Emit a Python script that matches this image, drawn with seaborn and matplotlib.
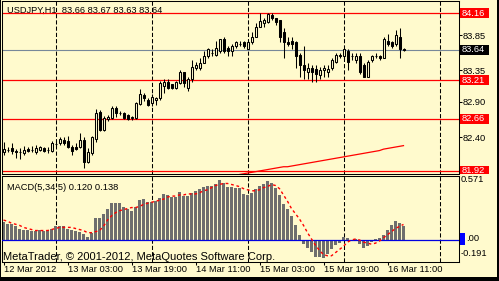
import numpy as np
import matplotlib
matplotlib.use("Agg")
import matplotlib.pyplot as plt
import seaborn as sns
from matplotlib.transforms import blended_transform_factory, Bbox
from matplotlib.patches import Rectangle

plt.rcParams['font.family'] = ['Liberation Sans', 'DejaVu Sans']

# ---------------- data ----------------
symbol_title = "USDJPY,H1  83.66 83.67 83.63 83.64"
macd_title = "MACD(5,34,5) 0.120 0.138"
copyright_text = "MetaTrader, \u00a9 2001-2012, MetaQuotes Software Corp."

opens = [82.19, 82.22, 82.25, 82.20, 82.19, 82.17, 82.23, 82.22, 82.19, 82.22,
         82.25, 82.22, 82.20, 82.30, 82.32, 82.36, 82.35, 82.26, 82.26, 82.26,
         82.36, 82.05, 82.17, 82.37, 82.76, 82.50, 82.66, 82.67, 82.82, 82.75,
         82.75, 82.72, 82.67, 82.67, 82.87, 83.00, 82.93, 82.89, 82.93, 82.95,
         83.13, 83.19, 83.15, 83.10, 83.17, 83.32, 83.10, 83.22, 83.39, 83.39,
         83.46, 83.55, 83.60, 83.57, 83.62, 83.79, 83.67, 83.62, 83.69, 83.73,
         83.75, 83.66, 83.75, 83.83, 83.97, 84.02, 84.03, 84.13, 84.09, 84.06,
         83.89, 83.75, 83.76, 83.75, 83.57, 83.42, 83.33, 83.39, 83.37, 83.29,
         83.35, 83.32, 83.39, 83.47, 83.56, 83.56, 83.62, 83.55, 83.49, 83.55,
         83.42, 83.26, 83.50, 83.55, 83.56, 83.53, 83.77, 83.75, 83.72, 83.83,
         83.66]
closes = [82.23, 82.22, 82.20, 82.19, 82.19, 82.22, 82.20, 82.22, 82.25, 82.26,
          82.20, 82.22, 82.32, 82.30, 82.37, 82.32, 82.26, 82.20, 82.23, 82.36,
          82.05, 82.19, 82.40, 82.75, 82.50, 82.67, 82.69, 82.82, 82.75, 82.75,
          82.67, 82.66, 82.69, 82.89, 83.02, 82.95, 82.86, 82.97, 82.95, 83.17,
          83.19, 83.10, 83.10, 83.19, 83.32, 83.17, 83.22, 83.40, 83.43, 83.46,
          83.55, 83.65, 83.60, 83.67, 83.79, 83.63, 83.62, 83.69, 83.75, 83.73,
          83.70, 83.75, 83.83, 83.97, 84.05, 84.06, 84.15, 84.09, 84.03, 83.83,
          83.75, 83.73, 83.72, 83.55, 83.42, 83.36, 83.39, 83.33, 83.30, 83.36,
          83.39, 83.37, 83.50, 83.57, 83.57, 83.65, 83.47, 83.55, 83.55, 83.33,
          83.26, 83.47, 83.56, 83.55, 83.52, 83.79, 83.73, 83.70, 83.85, 83.66,
          83.64]
highs = [82.33, 82.26, 82.32, 82.23, 82.25, 82.27, 82.26, 82.27, 82.29, 82.27,
         82.26, 82.26, 82.35, 82.36, 82.40, 82.40, 82.42, 82.29, 82.32, 82.46,
         82.40, 82.25, 82.42, 82.80, 82.79, 82.70, 82.72, 82.85, 82.85, 82.77,
         82.76, 82.73, 82.70, 82.90, 83.09, 83.03, 82.96, 83.02, 82.97, 83.20,
         83.22, 83.22, 83.16, 83.20, 83.36, 83.33, 83.26, 83.50, 83.47, 83.52,
         83.62, 83.67, 83.65, 83.76, 83.80, 83.83, 83.70, 83.72, 83.76, 83.76,
         83.76, 83.76, 83.89, 84.02, 84.16, 84.10, 84.16, 84.16, 84.10, 84.07,
         83.95, 83.82, 83.83, 83.76, 83.59, 83.69, 83.45, 83.43, 83.43, 83.40,
         83.43, 83.42, 83.53, 83.60, 83.60, 83.66, 83.65, 83.59, 83.60, 83.60,
         83.46, 83.50, 83.57, 83.59, 83.57, 83.82, 83.86, 83.76, 83.92, 83.95,
         83.67]
lows = [82.15, 82.19, 82.16, 82.10, 82.09, 82.15, 82.19, 82.19, 82.16, 82.20,
        82.19, 82.17, 82.19, 82.26, 82.29, 82.29, 82.25, 82.15, 82.22, 82.25,
        81.96, 82.03, 82.15, 82.33, 82.49, 82.49, 82.63, 82.66, 82.69, 82.72,
        82.66, 82.65, 82.65, 82.66, 82.86, 82.92, 82.85, 82.85, 82.86, 82.93,
        83.03, 83.09, 83.09, 83.09, 83.15, 83.12, 83.05, 83.19, 83.36, 83.36,
        83.45, 83.53, 83.56, 83.56, 83.60, 83.60, 83.56, 83.56, 83.67, 83.69,
        83.67, 83.65, 83.73, 83.82, 83.96, 83.97, 84.02, 84.06, 84.00, 83.75,
        83.53, 83.70, 83.65, 83.39, 83.25, 83.23, 83.22, 83.19, 83.19, 83.22,
        83.26, 83.25, 83.36, 83.45, 83.53, 83.53, 83.36, 83.50, 83.46, 83.30,
        83.26, 83.25, 83.47, 83.52, 83.49, 83.52, 83.69, 83.67, 83.70, 83.53,
        83.63]

# slow moving average (red line in price window), from bar 56 onwards
ma_first_bar = 56
ma_values = [81.84, 81.85, 81.86, 81.87, 81.88, 81.89, 81.90, 81.91, 81.92, 81.93,
             81.94, 81.95, 81.96, 81.97, 81.98, 81.98, 81.99, 82.00, 82.01, 82.02,
             82.03, 82.04, 82.05, 82.06, 82.07, 82.08, 82.09, 82.10, 82.11, 82.12,
             82.13, 82.14, 82.15, 82.16, 82.17, 82.18, 82.19, 82.20, 82.21, 82.23,
             82.24, 82.25, 82.26, 82.27, 82.28]

macd_main = [0.158, 0.14, 0.14, 0.12, 0.10, 0.093, 0.093, 0.084, 0.084, 0.093,
             0.084, 0.093, 0.10, 0.12, 0.12, 0.12, 0.10, 0.093, 0.084, 0.074,
             0.056, 0.028, 0.065, 0.195, 0.195, 0.232, 0.278, 0.325, 0.325, 0.325,
             0.297, 0.278, 0.26, 0.297, 0.353, 0.362, 0.334, 0.334, 0.343, 0.371,
             0.408, 0.399, 0.38, 0.38, 0.427, 0.39, 0.39, 0.418, 0.436, 0.455,
             0.473, 0.483, 0.483, 0.501, 0.536, 0.51, 0.473, 0.473, 0.464, 0.464,
             0.408, 0.399, 0.418, 0.455, 0.483, 0.501, 0.52, 0.51, 0.464, 0.399,
             0.316, 0.278, 0.213, 0.13, 0.046, -0.037, -0.074, -0.111, -0.148, -0.148,
             -0.158, -0.121, -0.084, -0.046, -0.028, 0.028, 0.019, 0.003, 0.009, -0.037,
             -0.074, -0.056, -0.019, 0.009, 0.019, 0.046, 0.093, 0.13, 0.167, 0.148,
             0.120]
macd_signal = [0.177, 0.167, 0.149, 0.14, 0.13, 0.112, 0.102, 0.093, 0.084, 0.084,
               0.084, 0.084, 0.093, 0.102, 0.112, 0.112, 0.112, 0.112, 0.102, 0.093,
               0.084, 0.065, 0.065, 0.074, 0.084, 0.121, 0.177, 0.214, 0.242, 0.26,
               0.27, 0.279, 0.288, 0.288, 0.298, 0.316, 0.326, 0.335, 0.344, 0.353,
               0.363, 0.381, 0.39, 0.39, 0.40, 0.40, 0.409, 0.409, 0.409, 0.419,
               0.437, 0.446, 0.465, 0.484, 0.493, 0.502, 0.502, 0.493, 0.484, 0.474,
               0.456, 0.446, 0.437, 0.437, 0.446, 0.465, 0.474, 0.493, 0.484, 0.456,
               0.40, 0.344, 0.279, 0.233, 0.186, 0.13, 0.065, 0.009, -0.047, -0.093,
               -0.13, -0.14, -0.14, -0.112, -0.084, -0.056, -0.019, 0.0, 0.009, 0.0,
               -0.019, -0.028, -0.037, -0.028, -0.009, 0.019, 0.047, 0.074, 0.102, 0.121,
               0.138]

time_labels = ["12 Mar 2012", "13 Mar 03:00", "13 Mar 19:00", "14 Mar 11:00",
               "15 Mar 03:00", "15 Mar 19:00", "16 Mar 11:00"]
time_label_bars = [0, 16, 32, 48, 64, 80, 96]
day_separator_bars = [13, 37, 61, 85, 109]
level_lines = [84.16, 83.21, 82.66, 81.92]
bid_price = 83.64
price_ticks = [83.85, 83.35, 82.90, 82.40]
macd_max, macd_zero, macd_min = 0.571, 0.00, -0.191
price_range = (81.884, 84.335)

# ---------------- figure ----------------
BG = '#FFFACD'
W, H = 499, 281
fig = plt.figure(figsize=(W / 100, H / 100), dpi=100, facecolor=BG)


def box(l, t, r, b):
    return [l / W, 1 - b / H, (r - l) / W, (b - t) / H]


def fx(x):
    return x / W


def fy(y):
    return 1 - y / H


ax = fig.add_axes(box(1.5, 1.0, 458.5, 173.5), facecolor=BG)
ax2 = fig.add_axes(box(1.5, 175.7, 458.5, 261.5), facecolor=BG)

n = len(opens)
xs = np.arange(n)
o = np.asarray(opens)
c = np.asarray(closes)
hi = np.asarray(highs)
lo = np.asarray(lows)

LW = 0.75
# level lines
for v in level_lines:
    ax.axhline(v, color='#FF0000', lw=0.9, zorder=2)
ax.axhline(bid_price, color='#778899', lw=0.8, zorder=2)

# slow MA
ma_x = np.arange(ma_first_bar, ma_first_bar + len(ma_values))
sns.lineplot(x=ma_x, y=ma_values, ax=ax, color='#FF0000', linewidth=0.9, zorder=2.5)

# separators
for b in day_separator_bars:
    for a in (ax, ax2):
        a.axvline(b, color='black', lw=LW, linestyle=(0, (4, 2)), zorder=1.8)

# candles
ax.vlines(xs, lo, hi, color='black', lw=LW, zorder=3)
up = c >= o
ax.bar(xs[up], (c - o)[up], bottom=o[up], width=0.5, facecolor=BG,
       edgecolor='black', linewidth=LW, zorder=4)
ax.bar(xs[~up], (o - c)[~up], bottom=c[~up], width=0.5, facecolor='black',
       edgecolor='black', linewidth=LW, zorder=4)

# MACD
sns.barplot(x=xs, y=macd_main, native_scale=True, width=0.75, color='#6E6E6E',
            saturation=1, linewidth=0, errorbar=None, ax=ax2, zorder=2)
ax2.axhline(macd_zero, color='#0000E0', lw=0.9, zorder=3)
sns.lineplot(x=xs, y=macd_signal, ax=ax2, color='#FF0000', linewidth=1.0,
             linestyle=(0, (2, 2)), zorder=4)

# limits
for a in (ax, ax2):
    a.set_xlim(-0.5, 113.75)
    a.set_xlabel('')
    a.set_ylabel('')
    for s in a.spines.values():
        s.set_color('black')
        s.set_linewidth(LW)
ax.set_ylim(*price_range)
ax2.set_ylim(macd_min, macd_max)

FS = 6.7
# price axis
ax.set_xticks([])
ax.yaxis.tick_right()
ax.set_yticks(price_ticks)
ax.set_yticklabels([f"{v:.2f}" for v in price_ticks], fontsize=FS)
ax.tick_params(axis='y', length=2.2, width=LW, pad=1.0, colors='black')

# time axis
ax2.set_yticks([])
ax2.set_xticks(time_label_bars)
ax2.set_xticklabels(time_labels, fontsize=FS, ha='left')
ax2.tick_params(axis='x', length=2.2, width=LW, pad=0.3, colors='black')

# level labels (coloured boxes)
fig.canvas.draw()
trans = blended_transform_factory(ax.transAxes, ax.transData)
ppu = ax.bbox.height / (price_range[1] - price_range[0])
box_h = 10.0 / ppu
bx0 = (460.0 - 1.5) / 457.0
bw = 29.5 / 457.0
tx = (461.5 - 1.5) / 457.0
clip_bb = Bbox.from_extents(0, H - 173.5, W, H)
labels = [(v, '#FF0000') for v in level_lines] + [(bid_price, 'black')]
for v, col in labels:
    r = Rectangle((bx0, v - box_h / 2), bw, box_h, transform=trans, facecolor=col,
                  edgecolor='none', clip_on=True, zorder=5)
    ax.add_artist(r)
    r.set_clip_path(None)
    r.set_clip_box(clip_bb)
    t = ax.text(tx, v, f"{v:.2f}", transform=trans, ha='left', va='center',
                fontsize=FS, color='white', zorder=6, clip_on=True)
    t.set_clip_path(None)
    t.set_clip_box(clip_bb)

# MACD labels
trans2 = blended_transform_factory(ax2.transAxes, ax2.transData)
ax2.annotate(f"{macd_max:.3f}", xy=(1, macd_max), xycoords=trans2, xytext=(2.5, -4),
             textcoords='offset pixels', ha='left', va='center', fontsize=FS)
ax2.annotate(f"{macd_min:.3f}", xy=(1, macd_min), xycoords=trans2, xytext=(2.5, 8),
             textcoords='offset pixels', ha='left', va='center', fontsize=FS)
fig.add_artist(Rectangle((fx(460), fy(244.5)), 4.5 / W, 11.5 / H,
                         transform=fig.transFigure, facecolor='#0000FF', edgecolor='none'))
zero_txt = f"{macd_zero:.2f}"
ax2.annotate(zero_txt[0], xy=(1, macd_zero), xycoords=trans2, xytext=(2.5, 1.5),
             textcoords='offset pixels', ha='left', va='center', fontsize=FS, color='white')
ax2.annotate(zero_txt[1:], xy=(1, macd_zero), xycoords=trans2, xytext=(7.9, 1.5),
             textcoords='offset pixels', ha='left', va='center', fontsize=FS)

# titles
ax.text(fx(6.7), fy(13.0), symbol_title, transform=fig.transFigure, fontsize=FS,
        ha='left', va='baseline', zorder=1.5)
ax2.text(fx(6.7), fy(190.0), macd_title, transform=fig.transFigure, fontsize=FS,
         ha='left', va='baseline', zorder=5)
ax2.text(fx(3.0), fy(260.0), copyright_text, transform=fig.transFigure, fontsize=8,
         ha='left', va='baseline', zorder=5)

# window frame
fig.add_artist(Rectangle((fx(497), 0), 2 / W, 1, transform=fig.transFigure,
                         facecolor='black', edgecolor='none'))
fig.add_artist(Rectangle((0, 0), 1, 4 / H, transform=fig.transFigure,
                         facecolor='black', edgecolor='none'))
fig.add_artist(Rectangle((0, 0), 1.0 / W, 1, transform=fig.transFigure,
                         facecolor='black', edgecolor='none'))

fig.savefig('out.png', dpi=100, facecolor=BG)
